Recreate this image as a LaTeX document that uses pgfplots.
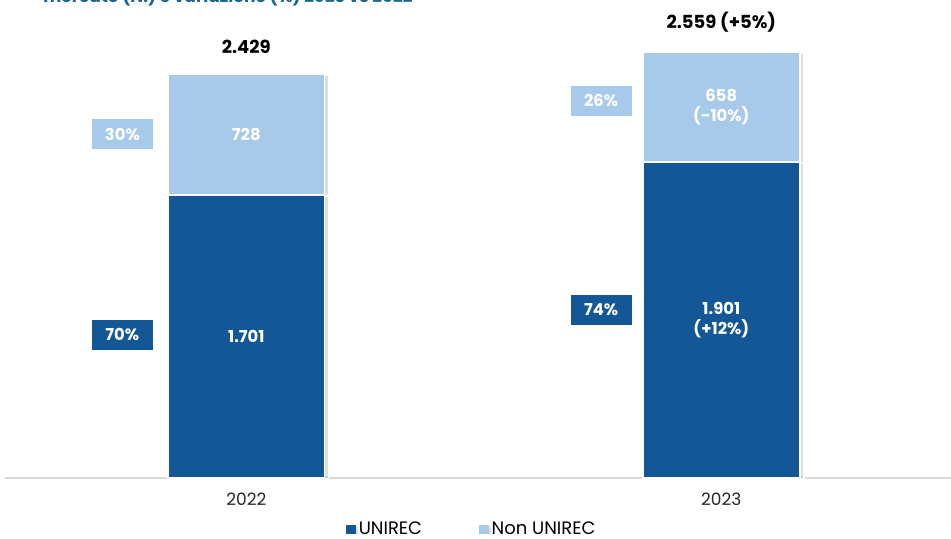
\documentclass[border=0pt]{standalone}
\usepackage{pgfplots}
\pgfplotsset{compat=1.18}
\usepackage{fontspec}
\setmainfont{Poppins}
\definecolor{darkb}{RGB}{20,87,150}
\definecolor{lightb}{RGB}{167,202,235}
\definecolor{titleb}{RGB}{23,102,148}
\definecolor{axisg}{RGB}{217,217,217}
\tikzset{
 vlab/.style={font=\fontsize{8.2}{10}\selectfont\bfseries, text=white, align=center},
 pbox/.style={vlab, minimum width=30.5pt, minimum height=15pt, inner sep=0pt},
 tlab/.style={font=\fontsize{9}{11}\selectfont\bfseries, text=black},
 bar shadow/.style={preaction={fill=black, fill opacity=0.13, transform canvas={shift={(2pt,-0.5pt)}}}},
}
\begin{document}
\begin{tikzpicture}
\begin{scope}
\clip (0,0) rectangle (475.5pt,269.5pt);
\node[anchor=base east, font=\fontsize{8.5}{10}\selectfont\bfseries, text=titleb, inner sep=0] at (206.5pt,268pt) {mercato (N.) e variazione (\%) 2023 vs 2022};
\end{scope}
\begin{axis}[
 at={(2.5pt,30.5pt)}, anchor=south west,
 scale only axis, width=473pt, height=239pt,
 ybar stacked, bar width=0.33,
 xmin=-0.508, xmax=1.4835, ymin=0, ymax=2874,
 axis y line=none, axis x line*=bottom,
 x axis line style={draw=axisg, line width=0.6pt, -},
 xtick={0,1}, xticklabels={2022,2023}, major tick length=0,
 xticklabel style={anchor=center, yshift=-10.75pt, font=\fontsize{8.5}{10}\selectfont, text=black!85},
 clip=false,
 legend columns=2,
 legend style={at={(0.494,-0.108)}, anchor=center, draw=none, fill=none,
   font=\fontsize{9}{10}\selectfont, inner sep=0pt, nodes={inner sep=1.5pt},
   /tikz/every even column/.append style={column sep=27pt}},
]
\addplot[fill=darkb, draw=white, line width=0.8pt, bar shadow,
  legend image code/.code={\fill[darkb] (0pt,-2pt) rectangle (4pt,2pt);}] coordinates {(0,1701) (1,1901)};
\addlegendentry{UNIREC}
\addplot[fill=lightb, draw=white, line width=0.8pt, bar shadow,
  legend image code/.code={\fill[lightb] (0pt,-2pt) rectangle (4pt,2pt);}] coordinates {(0,728) (1,658)};
\addlegendentry{Non UNIREC}
\coordinate (v1) at (axis cs:0,850.5);
\coordinate (v2) at (axis cs:0,2065);
\coordinate (v3) at (axis cs:1,950.5);
\coordinate (v4) at (axis cs:1,2230);
\coordinate (p1) at (axis cs:-0.261,2068);
\coordinate (p2) at (axis cs:-0.261,860);
\coordinate (p3) at (axis cs:0.747,2267);
\coordinate (p4) at (axis cs:0.747,1010);
\coordinate (t1) at (axis cs:0,2592);
\coordinate (t2) at (axis cs:1,2742);
\end{axis}
\node[vlab] at (v1) {1.701};
\node[vlab] at (v2) {728};
\node[vlab] at (v3) {1.901\\(+12\%)};
\node[vlab] at (v4) {658\\(-10\%)};
\node[pbox, fill=lightb] at (p1) {30\%};
\node[pbox, fill=darkb] at (p2) {70\%};
\node[pbox, fill=lightb] at (p3) {26\%};
\node[pbox, fill=darkb] at (p4) {74\%};
\node[tlab] at (t1) {2.429};
\node[tlab] at (t2) {2.559 (+5\%)};
\pgfresetboundingbox
\useasboundingbox (0,0) rectangle (475.5pt,269.5pt);
\end{tikzpicture}
\end{document}
